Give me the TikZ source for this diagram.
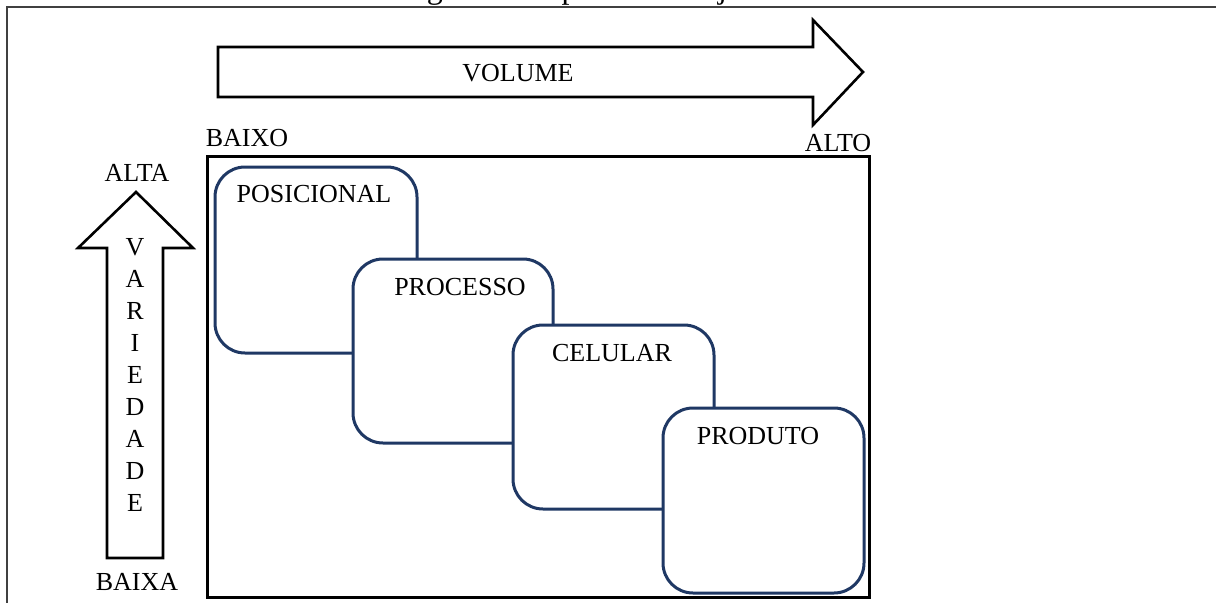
\documentclass[tikz,border=0pt]{standalone}
\usepackage{fontspec}
\setmainfont{Liberation Serif}
\definecolor{navy}{HTML}{1F3864}
\definecolor{framegray}{HTML}{404040}
\begin{document}
\begin{tikzpicture}[x=1pt,y=-1pt,
  lbl/.style={font=\fontsize{26}{31}\selectfont, inner sep=0pt, anchor=center},
  rbox/.style={draw=navy, line width=3pt, fill=white, rounded corners=30pt, rectangle, inner sep=0pt},
  bigarrow/.style={draw=black, line width=2.6pt, line join=miter, fill=white},
  framel/.style={draw=framegray, line width=2.2pt}]
\useasboundingbox (0,0) rectangle (1216,603);
% clipped caption
\begin{scope}
\clip (0,0) rectangle (1216,603);
\node[anchor=base west, inner sep=0pt, font=\fontsize{32}{36}\selectfont] (cap) at (400,-2) {Figura 3 - Tipos de arranjo físico};
\end{scope}
% table frame
\coordinate (ftl) at (7,7);
\coordinate (ftr) at (1216,7);
\coordinate (fbl) at (7,603);
\draw[framel] (ftr) -- (ftl) -- (fbl);
% volume arrow
\draw[bigarrow] (218,47) -- (813,47) -- (813,20) -- (863,72) -- (813,125) -- (813,97) -- (218,97) -- cycle;
\node[lbl] (vol) at (518,73) {VOLUME};
\node[lbl] (baixo) at (247,138) {BAIXO};
\node[lbl] (alto) at (838,143) {ALTO};
% variety arrow
\draw[bigarrow] (107,558) -- (107,248) -- (78,248) -- (136,192) -- (193,248) -- (163,248) -- (163,558) -- cycle;
\node[lbl] (alta) at (137,173) {ALTA};
\node[lbl] (baixa) at (137,582) {BAIXA};
\foreach \l [count=\k from 0] in {V,A,R,I,E,D,A,D,E} {
  \node[lbl] (var\k) at (135,{247+32*\k}) {\l};
}
% main box
\node[draw=black, line width=3pt, rectangle, inner sep=0pt, minimum width=662pt, minimum height=441pt] (main) at (538,376.5) {};
% layout boxes
\node[rbox, minimum width=202pt, minimum height=186pt] (pos) at (316,260) {};
\node[lbl] (posl) at (314,194) {POSICIONAL};
\node[rbox, minimum width=200pt, minimum height=184pt] (proc) at (453,351) {};
\node[lbl] (procl) at (460,287) {PROCESSO};
\node[rbox, minimum width=201pt, minimum height=184pt] (cel) at (613.5,417) {};
\node[lbl] (cell) at (612,353) {CELULAR};
\node[rbox, minimum width=201pt, minimum height=185pt] (prod) at (763.5,500.5) {};
\node[lbl] (prodl) at (758,436) {PRODUTO};
\end{tikzpicture}
\end{document}
